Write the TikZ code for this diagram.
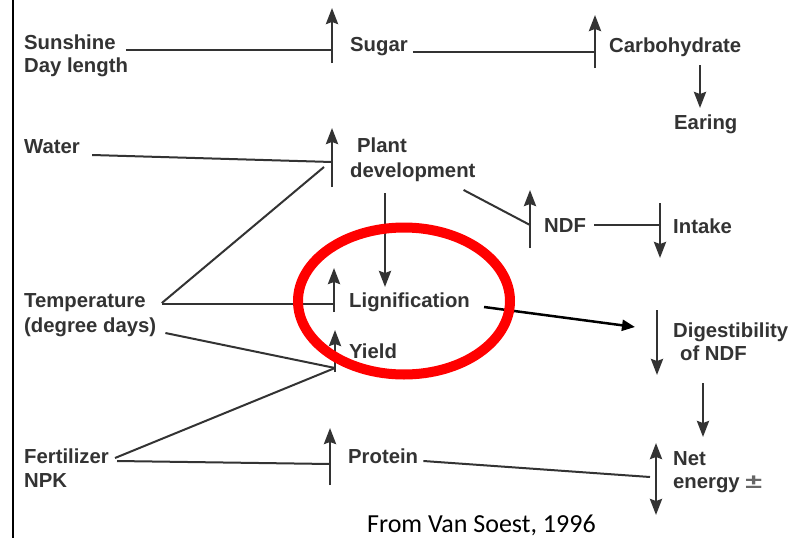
\documentclass[tikz,border=0pt]{standalone}
\usepackage{fontspec}
\setmainfont{Liberation Sans}
\newfontfamily\srcfont{Carlito}
\usepackage{tikz}
\usetikzlibrary{positioning}
\usetikzlibrary{arrows.meta}
\definecolor{ink}{HTML}{333333}
\definecolor{inklight}{HTML}{666666}
\tikzstyle{txt} = [anchor=base west, inner sep=0pt, text=ink, font=\bfseries\fontsize{20.3}{24}\selectfont]
\tikzstyle{bar} = [coordinate]
\tikzstyle{link} = [draw=ink, line width=2pt]
\tikzstyle{rise} = [draw=ink, line width=2.6pt, -{Stealth[length=16pt,width=12pt,inset=2pt]}]
\tikzstyle{fall} = [draw=ink, line width=2.6pt, -{Stealth[length=16pt,width=12pt,inset=2pt]}]
\tikzstyle{swing} = [draw=ink, line width=2.6pt, {Stealth[length=16pt,width=12pt,inset=2pt]}-{Stealth[length=16pt,width=12pt,inset=2pt]}]
\tikzstyle{lead} = [draw=black, line width=2.5pt, -{Triangle[length=13pt,width=11pt]}]

\begin{document}
\begin{tikzpicture}[x=1pt,y=-1pt]
    \useasboundingbox [fill=white] (0,0) rectangle (801,538);
    \draw [line width=2.5pt] (13,0) -- (13,538);

    \node [txt] (sun) at (24,49) {Sunshine};
    \node [txt, below=23pt of sun.base west, anchor=base west] (day) {Day length};
    \node [txt] (sugar) at (350,51) {Sugar};
    \node [txt] (carb) at (609,52) {Carbohydrate};
    \node [txt] (earing) at (674,129) {Earing};
    \node [txt] (water) at (24,153) {Water};
    \node [txt] (plant) at (357,152) {Plant};
    \node [txt, below left=25pt and 7pt of plant.base west, anchor=base west] (dev) {development};
    \node [txt] (ndf) at (544,232) {NDF};
    \node [txt] (intake) at (673,233) {Intake};
    \node [txt] (temp) at (24,307) {Temperature};
    \node [txt, below=25pt of temp.base west, anchor=base west] (deg) {(degree days)};
    \node [txt] (lig) at (349,307) {Lignification};
    \node [txt] (yield) at (349,358) {Yield};
    \node [txt] (dig) at (673,337) {Digestibility};
    \node [txt, below right=23pt and 7pt of dig.base west, anchor=base west] (ofndf) {of NDF};
    \node [txt] (fert) at (24,463) {Fertilizer};
    \node [txt, below=24pt of fert.base west, anchor=base west] (npk) {NPK};
    \node [txt] (protein) at (348,463) {Protein};
    \node [txt] (net) at (673,465) {Net};
    \node [txt, below=23pt of net.base west, anchor=base west] (energy) {energy \textcolor{inklight}{\scalebox{1.5}[1]{±}}};
    \node [anchor=base west, inner sep=0pt, font=\srcfont\fontsize{26}{30}\selectfont] (source) at (367,532) {From Van Soest, 1996};

    \node [bar] (sugarbar) at (332,50) {};
    \node [bar] (carbbar) at (595,52) {};
    \node [bar] (plantbar) at (332,162) {};
    \node [bar] (ndfbar) at (530,225) {};
    \node [bar] (intakebar) at (660,225) {};
    \node [bar] (ligbar) at (334,304) {};
    \node [bar] (yieldbar) at (335,368) {};
    \node [bar] (proteinbar) at (330,464) {};
    \node [bar] (digbar) at (657,330) {};
    \node [bar] (netbar) at (656,477) {};

    \draw [rise] ([yshift=-13pt]sugarbar) -- ([yshift=42pt]sugarbar);
    \draw [rise] ([yshift=-16pt]carbbar) -- ([yshift=37pt]carbbar);
    \draw [rise] ([yshift=-25pt]plantbar) -- ([yshift=34pt]plantbar);
    \draw [rise] ([yshift=-23pt]ndfbar) -- ([yshift=35pt]ndfbar);
    \draw [fall] ([yshift=22pt]intakebar) -- ([yshift=-33pt]intakebar);
    \draw [rise] ([yshift=-8pt]ligbar) -- ([yshift=36pt]ligbar);
    \draw [rise] ([yshift=-4pt]yieldbar) -- ([yshift=38pt]yieldbar);
    \draw [rise] ([yshift=-21pt]proteinbar) -- ([yshift=36pt]proteinbar);
    \draw [fall] ([yshift=20pt]digbar) -- ([yshift=-45pt]digbar);
    \draw [swing] ([yshift=34pt]netbar) -- ([yshift=-38pt]netbar);

    \draw [link] ([xshift=10pt,yshift=-1pt]sun.base east) -- (sugarbar);
    \draw [link] ([xshift=5pt,yshift=-1pt]sugar.base east) -- (carbbar);
    \draw [link] ([xshift=12pt,yshift=-2pt]water.base east) -- (plantbar);
    \draw [link] ([xshift=16pt,yshift=4pt]temp.base east) -- ([xshift=-8pt,yshift=-5pt]plantbar);
    \draw [link] ([xshift=16pt,yshift=3pt]temp.base east) -- (ligbar);
    \draw [link] ([xshift=9pt,yshift=-1pt]deg.base east) -- (yieldbar);
    \draw [link] ([xshift=6pt,yshift=5pt]fert.base east) -- (yieldbar);
    \draw [link] ([xshift=8pt,yshift=2pt]fert.base east) -- (proteinbar);
    \draw [link] ([xshift=5pt,yshift=2pt]protein.base east) -- ([xshift=-6pt]netbar);
    \draw [link] ([xshift=-12pt,yshift=-13pt]dev.base east) -- (ndfbar);
    \draw [link] ([xshift=8pt,yshift=7pt]ndf.base east) -- (intakebar);
    \draw [fall] ([xshift=91pt,yshift=-13pt]carb.base west) -- ([xshift=26pt,yshift=21pt]earing.base west);
    \draw [fall] ([xshift=35pt,yshift=-16pt]dev.base west) -- ([xshift=36pt,yshift=20pt]lig.base west);
    \draw [fall] ([xshift=23pt,yshift=-23pt]ofndf.base west) -- ([xshift=30pt,yshift=28pt]net.base west);
    \draw [lead] ([xshift=14pt]lig.base east) -- ([xshift=-22pt,yshift=3pt]digbar);

    \draw [red, line width=10pt] (404,301) ellipse [x radius=106, y radius=73.5];
\end{tikzpicture}
\end{document}
